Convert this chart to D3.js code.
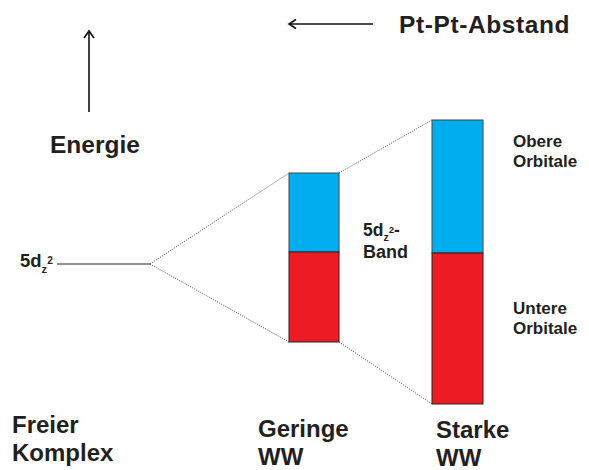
<!DOCTYPE html>
<html><head><meta charset="utf-8">
<script src="https://cdn.jsdelivr.net/npm/d3@7"></script>
<style>html,body{margin:0;padding:0;background:#fff}</style>
</head><body>
<svg id="c" width="589" height="470"></svg>
<script>
// ---- data ----
const categories = ["Freier Komplex", "Geringe WW", "Starke WW"];
const catLines = [["Freier", "Komplex"], ["Geringe", "WW"], ["Starke", "WW"]];
// energies (arbitrary units) : free level, band top, band split, band bottom
const freeLevel = 206;
const bandTop = [null, 297, 350];
const bandSplit = [null, 218, 217];
const bandBottom = [null, 128, 66];
const bandLabels = [["Obere", "Orbitale"], ["Untere", "Orbitale"]];
const axisTitle = "Energie";
const distTitle = "Pt-Pt-Abstand";

// ---- layout ----
const svg = d3.select("#c");
const y = d3.scaleLinear().domain([0, 470]).range([470, 0]);
const xLeft = [57, 289, 432];
const xRight = [150, 339, 483];
const font = "'Liberation Sans', Arial, Helvetica, sans-serif";
const blue = "#00AEEF", red = "#ED1C24";

// free complex level
svg.append("line").attr("x1", xLeft[0]).attr("x2", xRight[0])
  .attr("y1", y(freeLevel)).attr("y2", y(freeLevel))
  .attr("stroke", "#6d6d6d").attr("stroke-width", 1.5);

// dotted connector lines
const conn = [
  [xRight[0], y(freeLevel), xLeft[1], y(bandTop[1])],
  [xRight[0], y(freeLevel), xLeft[1], y(bandBottom[1])],
  [xRight[1], y(bandTop[1]), xLeft[2], y(bandTop[2])],
  [xRight[1], y(bandBottom[1]), xLeft[2], y(bandBottom[2])]
];
svg.selectAll("line.conn").data(conn).join("line").attr("class", "conn")
  .attr("x1", d => d[0]).attr("y1", d => d[1]).attr("x2", d => d[2]).attr("y2", d => d[3])
  .attr("stroke", "#555").attr("stroke-width", 0.9).attr("stroke-dasharray", "1.2,1.2");

// bands
[1, 2].forEach(i => {
  svg.append("rect").attr("x", xLeft[i]).attr("width", xRight[i] - xLeft[i])
    .attr("y", y(bandTop[i])).attr("height", y(bandSplit[i]) - y(bandTop[i]))
    .attr("fill", blue).attr("stroke", "#444").attr("stroke-width", 1);
  svg.append("rect").attr("x", xLeft[i]).attr("width", xRight[i] - xLeft[i])
    .attr("y", y(bandSplit[i])).attr("height", y(bandBottom[i]) - y(bandSplit[i]))
    .attr("fill", red).attr("stroke", "#222").attr("stroke-width", 1);
});

// arrows
const arrowG = svg.append("g").attr("stroke", "#111").attr("stroke-width", 1.6).attr("fill", "none");
arrowG.append("line").attr("x1", 89).attr("y1", 112).attr("x2", 89).attr("y2", 31);
arrowG.append("path").attr("d", "M84,38 L89,31 L94,38");
arrowG.append("line").attr("x1", 373).attr("y1", 24).attr("x2", 289).attr("y2", 24);
arrowG.append("path").attr("d", "M296,19.5 L289,24 L296,28.5");

function txt(x, yy, s, size, anchor) {
  return svg.append("text").attr("x", x).attr("y", yy).text(s)
    .attr("font-family", font).attr("font-weight", "bold").attr("font-size", size)
    .attr("fill", "#231f20").attr("text-anchor", anchor || "start");
}
txt(399, 33, distTitle, 24.5).attr("letter-spacing", 0.6);
txt(50, 153, axisTitle, 24.5);

// 5dz2 labels
function dz2(x, yy, size, suffix) {
  const t = svg.append("text").attr("x", x).attr("y", yy)
    .attr("font-family", font).attr("font-weight", "bold").attr("font-size", size).attr("fill", "#231f20");
  t.append("tspan").text("5d");
  t.append("tspan").text("z").attr("font-size", size * 0.6).attr("dy", size * 0.3);
  t.append("tspan").text("2").attr("font-size", size * 0.55).attr("dy", -size * 0.48);
  if (suffix) t.append("tspan").text(suffix).attr("dy", size * 0.18);
}
dz2(20, 267, 18.5, null);
dz2(363, 236, 17.5, "-");
txt(363, 258, "Band", 18);

// band labels
const bandLabelY = [147, 314];
bandLabels.forEach((lines, i) => {
  lines.forEach((s, j) => txt(513, bandLabelY[i] + j * 20, s, 17));
});

// category labels
const catX = [12, 258, 436];
const catY = [433, 437, 438];
catLines.forEach((lines, i) => {
  lines.forEach((s, j) => txt(catX[i], catY[i] + j * 28, s, 24));
});
</script>
</body></html>
